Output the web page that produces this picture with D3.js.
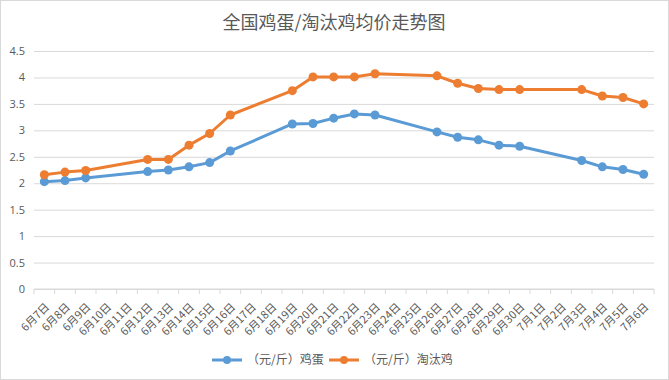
<!DOCTYPE html>
<html>
<head>
<meta charset="utf-8">
<script src="https://cdn.jsdelivr.net/npm/d3@7"></script>
<style>
  body { margin: 0; background: #fff; }
  svg { display: block; font-family: "Noto Sans CJK SC", "Noto Sans", sans-serif; }
</style>
</head>
<body>
<svg width="669" height="380"></svg>
<script>
const width = 669, height = 380

// every day on the axis
const days = [
    '6月7日', '6月8日', '6月9日', '6月10日', '6月11日', '6月12日', '6月13日', '6月14日',
    '6月15日', '6月16日', '6月17日', '6月18日', '6月19日', '6月20日', '6月21日', '6月22日',
    '6月23日', '6月24日', '6月25日', '6月26日', '6月27日', '6月28日', '6月29日', '6月30日',
    '7月1日', '7月2日', '7月3日', '7月4日', '7月5日', '7月6日'
]

// days with a price
const priceDays = [
    '6月7日', '6月8日', '6月9日', '6月12日', '6月13日', '6月14日', '6月15日', '6月16日',
    '6月19日', '6月20日', '6月21日', '6月22日', '6月23日', '6月26日', '6月27日', '6月28日',
    '6月29日', '6月30日', '7月3日', '7月4日', '7月5日', '7月6日'
]
const eggPrice = [
    2.03, 2.05, 2.10, 2.22, 2.25, 2.31, 2.39, 2.61,
    3.12, 3.13, 3.23, 3.31, 3.29, 2.97, 2.87, 2.82,
    2.72, 2.70, 2.43, 2.31, 2.26, 2.17
]
const henPrice = [
    2.16, 2.21, 2.24, 2.45, 2.45, 2.72, 2.94, 3.29,
    3.75, 4.01, 4.01, 4.01, 4.07, 4.03, 3.89, 3.79,
    3.77, 3.77, 3.77, 3.65, 3.62, 3.50
]
const yTicks = [0, 0.5, 1, 1.5, 2, 2.5, 3, 3.5, 4, 4.5]

const series = [
    { name: '（元/斤）鸡蛋', values: eggPrice, color: '#5b9bd5' },
    { name: '（元/斤）淘汰鸡', values: henPrice, color: '#ed7d31' }
]

const plot = { left: 34, right: 654, top: 51, bottom: 289 }
const textColor = '#595959', gridColor = '#d9d9d9'

const svg = d3.select('svg');

// chart frame
svg.append('rect')
    .attr('x', 0.5).attr('y', 0.5)
    .attr('width', width - 1).attr('height', height - 1)
    .attr('fill', '#fff')
    .attr('stroke', gridColor);

svg.append('text')
    .attr('x', 334)
    .attr('y', 29)
    .attr('text-anchor', 'middle')
    .style('font-size', '18px')
    .attr('fill', textColor)
    .text('全国鸡蛋/淘汰鸡均价走势图');

const x = d3.scaleBand().domain(days).range([plot.left, plot.right]).padding(0)
const y = d3.scaleLinear().domain([0, 4.5]).range([plot.bottom, plot.top])

// gridlines + y labels
const yAxis = svg.append('g')
    .attr('transform', `translate(${plot.left},0)`)
    .call(d3.axisLeft(y).tickValues(yTicks).tickFormat(d3.format('')).tickSize(-(plot.right - plot.left)).tickPadding(9));
yAxis.select('.domain').remove();
yAxis.selectAll('line').attr('stroke', gridColor);
yAxis.selectAll('text').attr('fill', textColor).style('font-size', '11px').style('font-family', '"Open Sans", sans-serif');

// x axis: line, ticks at band edges, rotated labels
const xg = svg.append('g').attr('transform', `translate(0,${plot.bottom})`);
xg.append('line')
    .attr('x1', plot.left).attr('x2', plot.right)
    .attr('stroke', gridColor);
xg.selectAll('.edge')
    .data(days.concat(['end']))
    .enter()
    .append('line')
    .attr('x1', d => d === 'end' ? plot.right : x(d))
    .attr('x2', d => d === 'end' ? plot.right : x(d))
    .attr('y1', 0).attr('y2', 5)
    .attr('stroke', gridColor);
xg.selectAll('.lbl')
    .data(days)
    .enter()
    .append('text')
    .attr('transform', d => `translate(${x(d) + x.bandwidth() / 2 + 3},${16}) rotate(-45)`)
    .attr('text-anchor', 'end')
    .attr('dy', '0.35em')
    .style('font-size', '11px')
    .attr('fill', textColor)
    .text(d => d);

// lines and markers
const line = d3.line()
    .x(d => x(d.day) + x.bandwidth() / 2)
    .y(d => y(d.v));

series.forEach(s => {
    const pts = priceDays.map((day, i) => ({ day, v: s.values[i] }));
    svg.append('path')
        .datum(pts)
        .attr('d', line)
        .attr('fill', 'none')
        .attr('stroke', s.color)
        .attr('stroke-width', 3)
        .attr('stroke-linejoin', 'round');
    svg.append('g')
        .selectAll('circle')
        .data(pts)
        .enter()
        .append('circle')
        .attr('cx', d => x(d.day) + x.bandwidth() / 2)
        .attr('cy', d => y(d.v))
        .attr('r', 4.5)
        .attr('fill', s.color);
});

// legend
const legendX = [212, 329];
series.forEach((s, i) => {
    const g = svg.append('g').attr('transform', `translate(${legendX[i]},360)`);
    g.append('line').attr('x1', 0).attr('x2', 30).attr('stroke', s.color).attr('stroke-width', 3);
    g.append('circle').attr('cx', 15).attr('r', 4).attr('fill', s.color);
    g.append('text')
        .attr('x', 35)
        .attr('dy', '0.35em')
        .style('font-size', '12px')
        .attr('fill', textColor)
        .text(s.name);
});
</script>
</body>
</html>
